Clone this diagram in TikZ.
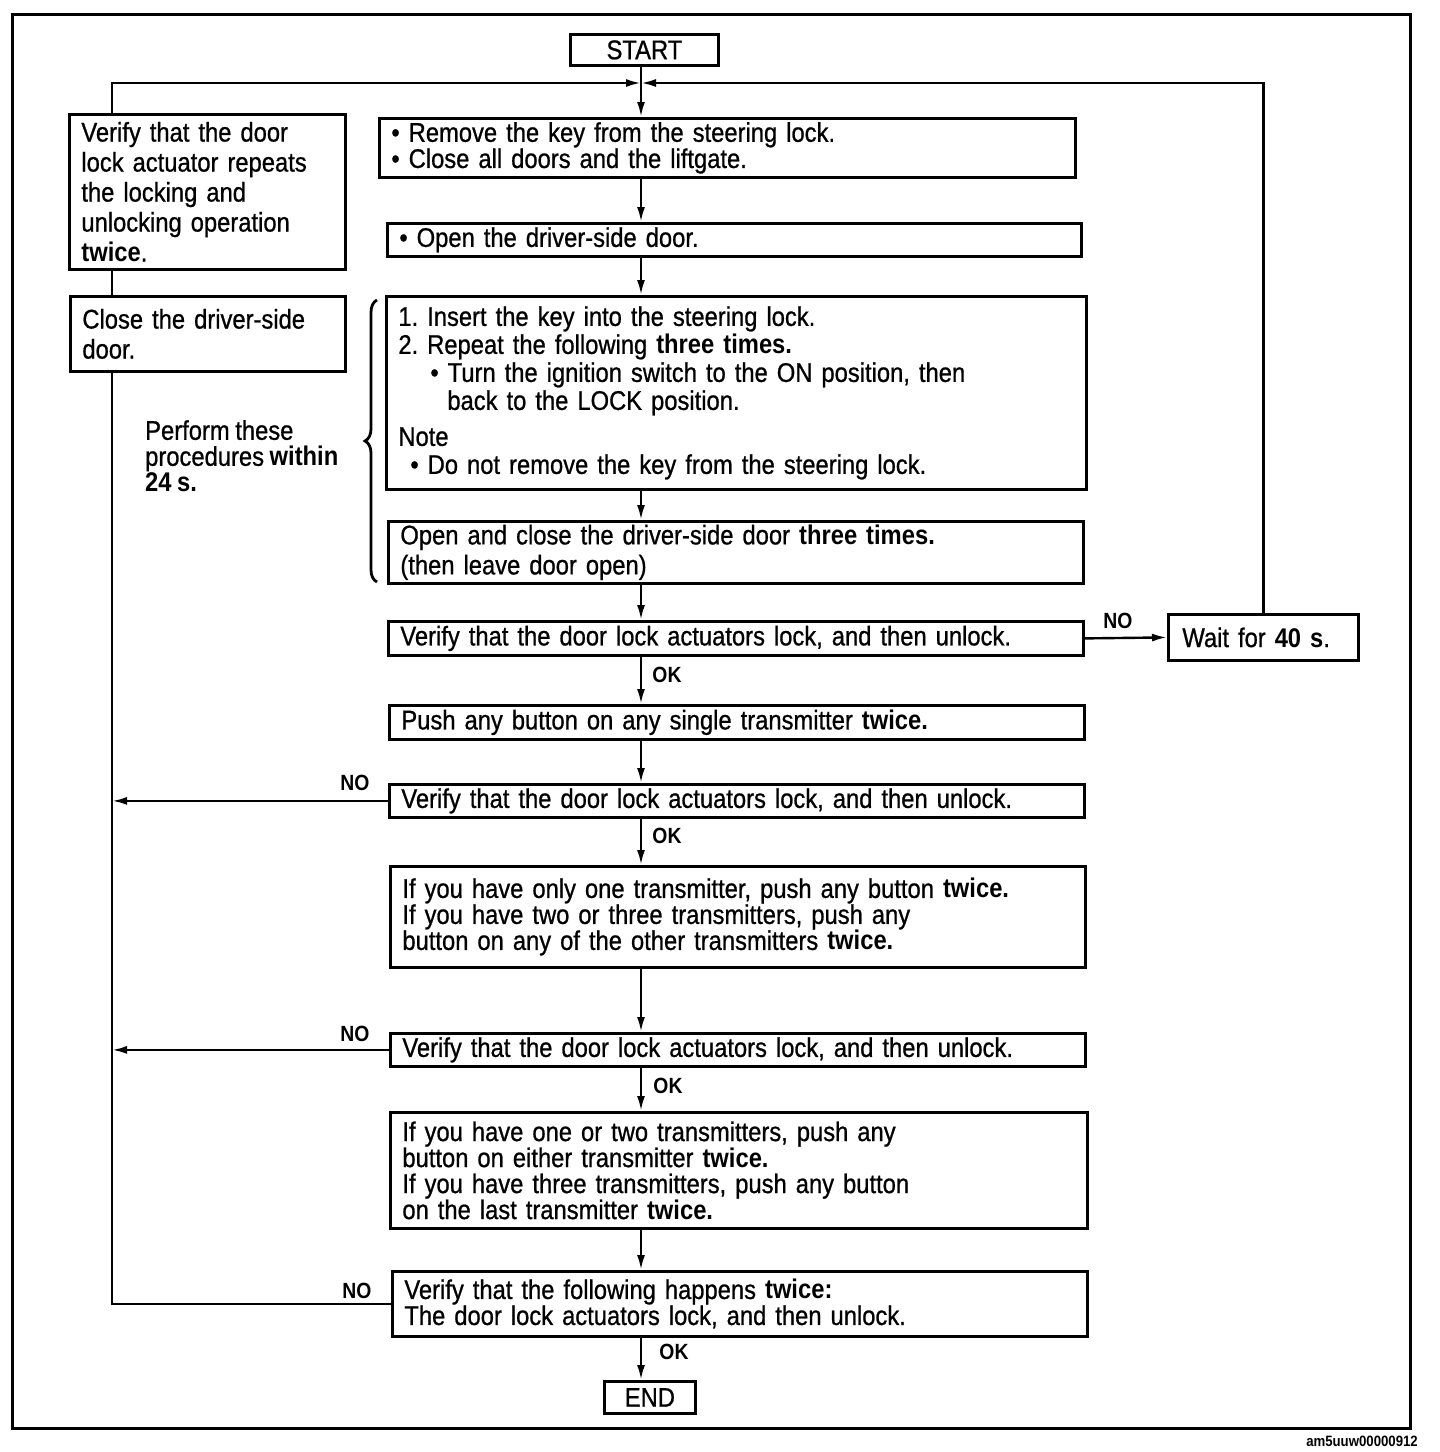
\documentclass[tikz,border=0pt]{standalone}
\usepackage{fontspec}
\setmainfont{Liberation Sans}[FakeStretch=0.88,WordSpace=0.85,UprightFeatures={FakeBold=0.8}]
\usetikzlibrary{arrows.meta,decorations.pathreplacing}
\frenchspacing

\begin{document}
\begin{tikzpicture}
  [x=1pt,y=-1pt,
   every node/.style={font=\fontsize{27}{27}\selectfont},
   box/.style={draw,line width=2.8pt,anchor=north west,align=left,inner xsep=12pt,inner ysep=0pt},
   lbl/.style={font=\fontsize{22}{22}\selectfont\bfseries,inner sep=0pt},
   arr/.style={line width=2.4pt,-{Latex[length=15pt,width=8pt]}},
   ln/.style={line width=2.4pt}]
  \useasboundingbox (0,0) rectangle (1440,1452);
  \draw[line width=3pt] (12,14) rectangle (1410,1428);
  \coordinate (spine) at (641,0);
  \coordinate (loopx) at (112,0);
  \coordinate (fb) at (0,83);
  % main column
  \node[box,minimum width=148pt,minimum height=31pt,inner xsep=0pt] (nstart) at (569,33) {START};
  \node[box,text width=672pt,minimum height=59pt,font=\fontsize{27}{25}\selectfont] (nkey) at (378,117)
    {\textbullet\ Remove the key from the steering lock.\\\textbullet\ Close all doors and the liftgate.};
  \node[box,text width=670pt,minimum height=33pt] (nopen) at (386,222) {\textbullet\ Open the driver-side door.};
  \node[box,text width=676pt,minimum height=193pt,font=\fontsize{27}{28}\selectfont] (nins) at (385,295)
    {1. Insert the key into the steering lock.\\
     2. Repeat the following \textbf{three times.}\\
     \hspace*{32pt}\textbullet\ Turn the ignition switch to the ON position, then\\
     \hspace*{49pt}back to the LOCK position.\\[8pt]
     Note\\
     \hspace*{12pt}\textbullet\ Do not remove the key from the steering lock.};
  \node[box,text width=671pt,minimum height=62pt,font=\fontsize{27}{30}\selectfont] (ndoor) at (387,520)
    {Open and close the driver-side door \textbf{three times.}\\(then leave door open)};
  \node[box,text width=671pt,minimum height=34pt] (nv1) at (387,620) {Verify that the door lock actuators lock, and then unlock.};
  \node[box,text width=162pt,minimum height=46pt,inner xsep=14pt] (nwait) at (1167,613) {Wait for \textbf{40 s}.};
  \node[box,text width=671pt,minimum height=34pt] (npush) at (388,704) {Push any button on any single transmitter \textbf{twice.}};
  \node[box,text width=671pt,minimum height=33pt] (nv2) at (388,783) {Verify that the door lock actuators lock, and then unlock.};
  \node[box,text width=671pt,minimum height=101pt,font=\fontsize{27}{26}\selectfont] (nother) at (389,865)
    {If you have only one transmitter, push any button \textbf{twice.}\\
     If you have two or three transmitters, push any\\
     button on any of the other transmitters \textbf{twice.}};
  \node[box,text width=671pt,minimum height=33pt] (nv3) at (389,1032) {Verify that the door lock actuators lock, and then unlock.};
  \node[box,text width=673pt,minimum height=116pt,font=\fontsize{27}{26}\selectfont] (nlast) at (389,1111)
    {If you have one or two transmitters, push any\\
     button on either transmitter \textbf{twice.}\\
     If you have three transmitters, push any button\\
     on the last transmitter \textbf{twice.}};
  \node[box,text width=671pt,minimum height=65pt,font=\fontsize{27}{26}\selectfont] (nv4) at (391,1270)
    {Verify that the following happens \textbf{twice:}\\The door lock actuators lock, and then unlock.};
  \node[box,minimum width=91pt,minimum height=32pt,inner xsep=0pt] (nend) at (603,1380) {END};
  % left column
  \node[box,text width=252pt,minimum height=155pt,font=\fontsize{27}{30}\selectfont] (nrep) at (68,113)
    {Verify that the door\\lock actuator repeats\\the locking and\\unlocking operation\\\textbf{twice}.};
  \node[box,text width=251pt,minimum height=75pt,font=\fontsize{27}{30}\selectfont] (nclose) at (69,295)
    {Close the driver-side\\door.};
  \node[anchor=north west,align=left,inner sep=0pt,font=\fontsize{27}{26}\selectfont] (nnote) at (145,420)
    {Perform these\\procedures \textbf{within}\\\textbf{24 s.}};
  \draw[line width=2.8pt,decorate,decoration={brace,amplitude=12pt}] (377,582) -- (377,300);
  % connectors
  \foreach \from/\to in {nstart/nkey,nkey/nopen,nopen/nins,nins/ndoor,ndoor/nv1,nv1/npush,
      npush/nv2,nv2/nother,nother/nv3,nv3/nlast,nlast/nv4,nv4/nend}
    \draw[arr] (spine |- \from.south) -- (spine |- \to.north);
  \draw[arr] (nv1.east) -- (nwait.west);
  \draw[arr] (nv2.west) -- (loopx |- nv2.west);
  \draw[arr] (nv3.west) -- (loopx |- nv3.west);
  \draw[ln] (nv4.west) -| (loopx |- nclose.south);
  \draw[ln] (loopx |- nclose.north) -- (loopx |- nrep.south);
  \draw[arr] (loopx |- nrep.north) |- (spine |- fb);
  \draw[arr] (nwait.north) |- (spine |- fb);
  % labels
  \node[lbl] (lno1) at (1118,621) {NO};
  \node[lbl] (lok1) at (667,675) {OK};
  \node[lbl] (lno2) at (355,783) {NO};
  \node[lbl] (lok2) at (667,836) {OK};
  \node[lbl] (lno3) at (355,1034) {NO};
  \node[lbl] (lok3) at (668,1086) {OK};
  \node[lbl] (lno4) at (357,1291) {NO};
  \node[lbl] (lok4) at (674,1352) {OK};
  \node[anchor=south east,inner sep=0pt,font=\fontsize{15}{15}\selectfont\bfseries] (nref) at (1418,1447) {am5uuw00000912};
\end{tikzpicture}
\end{document}
